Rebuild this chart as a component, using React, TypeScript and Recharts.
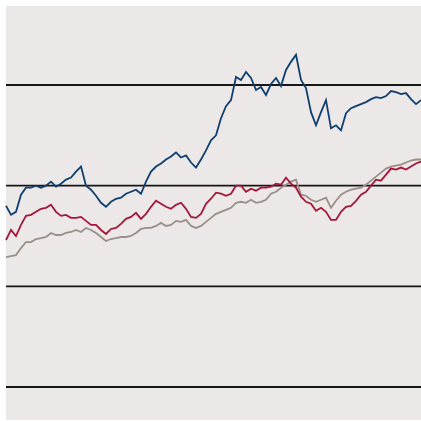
import React from 'react';
import { LineChart, Line, XAxis, YAxis, ReferenceLine, ReferenceArea } from 'recharts';

// index values, one reading every ~5px across the plot
const blue = [
  180, 171, 174, 191, 198, 198, 200, 198, 200, 204, 199, 202, 206, 208, 214, 219, 200, 196, 190, 183,
  179, 184, 187, 188, 192, 194, 196, 192, 204, 214, 219, 222, 226, 229, 233, 228, 230, 223, 218, 226,
  235, 245, 250, 267, 279, 285, 308, 305, 313, 307, 295, 298, 290, 301, 307, 299, 315, 323, 330, 305,
  297, 273, 260, 273, 285, 257, 260, 255, 272, 277, 279, 281, 283, 286, 288, 287, 289, 294, 293, 291,
  292, 286, 281, 285,
];
const red = [
  146, 156, 150, 161, 170, 171, 174, 177, 178, 181, 174, 170, 171, 168, 168, 169, 165, 161, 161, 156,
  152, 157, 158, 162, 167, 169, 173, 167, 172, 179, 185, 182, 179, 177, 181, 183, 177, 169, 168, 172,
  182, 187, 193, 192, 190, 192, 200, 200, 194, 197, 195, 198, 198, 199, 202, 201, 208, 202, 198, 189,
  184, 182, 175, 178, 174, 166, 166, 174, 179, 180, 185, 191, 194, 200, 206, 205, 211, 217, 216, 218,
  216, 219, 222, 224,
];
const grey = [
  129, 130, 131, 138, 144, 144, 147, 148, 149, 153, 151, 151, 153, 154, 156, 154, 158, 156, 153, 149,
  145, 147, 148, 149, 149, 150, 153, 157, 158, 158, 160, 163, 160, 161, 165, 164, 166, 160, 158, 160,
  164, 168, 172, 174, 176, 178, 183, 184, 183, 186, 183, 184, 186, 192, 194, 198, 201, 204, 206, 191,
  190, 186, 184, 186, 188, 178, 185, 191, 194, 196, 197, 198, 201, 205, 209, 213, 217, 219, 220, 221,
  223, 225, 226, 226,
];
const gridLevels = [0, 100, 200, 300];

const data = blue.map((b, i) => ({ i, blue: b, red: red[i], grey: grey[i] }));

const COLORS = {
  bg: '#ece8e7',
  grid: '#161616',
  blue: '#0f3f6e',
  red: '#a3173a',
  grey: '#9a8f88',
};

export default function App() {
  return (
    <div style={{ position: 'absolute', left: 0, top: 0, width: 421, height: 421, background: '#fff' }}>
      <LineChart width={421} height={421} data={data} margin={{ top: 6, right: 0, left: 6, bottom: 1 }}>
        <XAxis dataKey="i" type="number" domain={[0, data.length - 1]} hide />
        <YAxis type="number" domain={[-32.8, 378.5]} ticks={gridLevels} hide />
        <ReferenceArea x1={0} x2={data.length - 1} y1={-32.8} y2={378.5} fill={COLORS.bg} fillOpacity={1} stroke="none" />
        {gridLevels.map(v => (
          <ReferenceLine key={v} y={v} stroke={COLORS.grid} strokeWidth={1.8} />
        ))}
        <Line type="linear" dataKey="grey" stroke={COLORS.grey} strokeWidth={1.8} dot={false} isAnimationActive={false} />
        <Line type="linear" dataKey="red" stroke={COLORS.red} strokeWidth={1.8} dot={false} isAnimationActive={false} />
        <Line type="linear" dataKey="blue" stroke={COLORS.blue} strokeWidth={1.8} dot={false} isAnimationActive={false} />
      </LineChart>
    </div>
  );
}
